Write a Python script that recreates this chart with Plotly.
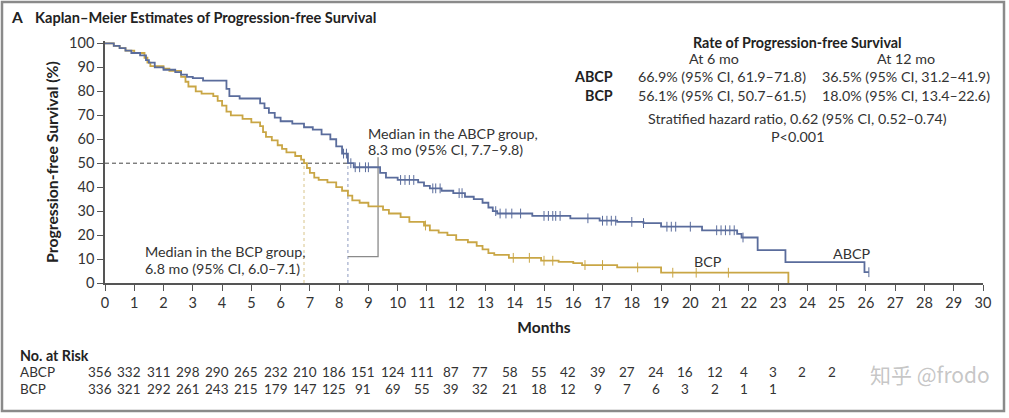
import plotly.graph_objects as go

# ---------------- data ----------------
abcp_t = [0, 0.3, 0.5, 0.7, 0.9, 1.2, 1.4, 1.5, 1.7, 2.0, 2.4, 2.6, 2.8, 3.0, 3.35, 4.15, 4.25, 4.6,
          5.3, 5.45, 5.6, 5.8, 6.0, 6.4, 6.8, 7.1, 7.4, 7.7, 7.9, 8.1, 8.3, 8.5, 9.4, 9.6, 10.0, 10.7,
          10.9, 11.1, 11.5, 11.9, 12.3, 12.6, 12.9, 13.1, 13.25, 13.4, 14.6, 15.9, 16.9, 17.5, 18.4,
          19.0, 20.4, 21.6, 21.75, 22.3, 23.25, 25.95, 26.1]
abcp_s = [100, 99, 98, 97, 96, 95, 93, 92, 90, 89, 88, 87, 86, 85.5, 84.5, 81, 78, 77,
          75, 73, 71, 69, 67.5, 66.5, 65, 64, 62, 60, 57, 54, 50, 48.3, 46, 44, 43, 42,
          40.5, 39.5, 38.5, 37.5, 36, 35, 33.5, 31.5, 30, 29, 28, 27, 26, 25.5, 25,
          23.5, 22, 20.5, 19, 13.75, 8.75, 4.5, 4.5]

bcp_t = [0, 0.3, 0.5, 0.7, 1.0, 1.35, 1.45, 1.55, 2.0, 2.2, 2.6, 2.75, 2.85, 3.1, 3.3, 3.7, 3.85, 4.0,
         4.15, 4.3, 4.7, 5.0, 5.3, 5.4, 5.5, 5.7, 5.9, 6.05, 6.2, 6.5, 6.7, 6.8, 6.9, 7.0, 7.15, 7.3,
         7.6, 7.9, 8.1, 8.3, 8.45, 8.7, 9.0, 9.5, 9.7, 10.1, 10.4, 10.9, 11.1, 11.4, 11.7, 12.0, 12.4,
         12.7, 12.9, 13.1, 13.3, 13.8, 14.9, 15.5, 16.0, 16.3, 17.5, 19.0, 23.35]
bcp_s = [100, 99, 98, 97, 96, 94, 92, 90.5, 89.5, 88.5, 86, 84, 82, 80, 79, 78, 76, 74,
         71.5, 70, 68.5, 67, 65.5, 63, 61, 59.5, 57.5, 56, 54.5, 53, 51.5, 50, 48, 46, 44, 43,
         42, 40, 38.5, 36.5, 34.5, 33.5, 32, 30.5, 29, 27.5, 25.5, 24, 22, 21, 20, 18, 17,
         15.5, 14, 12.5, 11.7, 10.5, 9.3, 8.8, 8.3, 7.5, 6.5, 4.3, 0]

abcp_censor = [8.15, 8.25, 8.4, 8.55, 8.7, 8.9, 9.0, 10.1, 10.25, 10.4, 10.55, 11.2, 11.3, 11.45,
               12.1, 12.2, 13.35, 13.5, 13.7, 13.9, 14.2, 15.0, 15.15, 15.3, 15.4, 15.55, 16.5,
               17.0, 17.15, 17.3, 17.45, 18.0, 18.4, 19.2, 19.35, 19.5, 20.0, 20.9, 21.05, 21.2,
               21.35, 21.5, 21.8, 26.1]
bcp_censor = [10.95, 13.95, 14.5, 15.0, 15.3, 16.4, 17.0, 18.2, 19.4, 20.2, 21.3]

risk_months = list(range(0, 26))
abcp_risk = [356, 332, 311, 298, 290, 265, 232, 210, 186, 151, 124, 111, 87, 77, 58, 55, 42, 39,
             27, 24, 16, 12, 4, 3, 2, 2]
bcp_risk = [336, 321, 292, 261, 243, 215, 179, 147, 125, 91, 69, 55, 39, 32, 21, 18, 12, 9, 7, 6,
            3, 2, 1, 1]

x_ticks = list(range(0, 31))
y_ticks = list(range(0, 101, 10))

median_abcp = 8.3
median_bcp = 6.8

# ---------------- style ----------------
BLUE = "#5a6c9c"
GOLD = "#c9a645"
TXT = "#333333"
DARK = "#222222"
FONT = "Lato"
FS = 14.3

# plot area in pixels
L, R, T, B = 105, 983, 41, 283
W, H = 1009, 418


def px(x):
    return (x - L) / (R - L)


def py(y):
    return (B - y) / (B - T)


def step_at(ts, ss, t):
    v = ss[0]
    for ti, si in zip(ts, ss):
        if ti <= t:
            v = si
    return v


fig = go.Figure()

# median guide lines
fig.add_trace(go.Scatter(x=[0, median_abcp], y=[50, 50], mode="lines",
                         line=dict(color="#444444", width=1, dash="4px,3px"), hoverinfo="skip"))
fig.add_trace(go.Scatter(x=[median_bcp, median_bcp], y=[0, 50], mode="lines",
                         line=dict(color="#d8c48a", width=1, dash="3px,3px"), hoverinfo="skip"))
fig.add_trace(go.Scatter(x=[median_abcp, median_abcp], y=[0, 50], mode="lines",
                         line=dict(color="#8e9cc0", width=1, dash="3px,3px"), hoverinfo="skip"))
# leader for ABCP median label
fig.add_trace(go.Scatter(x=[median_abcp, 9.33, 9.33], y=[11, 11, 52.5], mode="lines",
                         line=dict(color="#8a8a8a", width=1.3), hoverinfo="skip"))

# KM curves
fig.add_trace(go.Scatter(x=bcp_t, y=bcp_s, mode="lines", line=dict(color=GOLD, width=1.8, shape="hv"),
                         name="BCP"))
fig.add_trace(go.Scatter(x=abcp_t, y=abcp_s, mode="lines", line=dict(color=BLUE, width=1.8, shape="hv"),
                         name="ABCP"))

# censor marks
fig.add_trace(go.Scatter(x=bcp_censor, y=[step_at(bcp_t, bcp_s, t) for t in bcp_censor], mode="markers",
                         marker=dict(symbol="line-ns", size=7, line=dict(color=GOLD, width=1)),
                         hoverinfo="skip"))
fig.add_trace(go.Scatter(x=abcp_censor, y=[step_at(abcp_t, abcp_s, t) for t in abcp_censor],
                         mode="markers",
                         marker=dict(symbol="line-ns", size=7, line=dict(color=BLUE, width=1)),
                         hoverinfo="skip"))

ann = []


def text(x, y, s, size=FS, anchor="left", bold=False, color=TXT, family=FONT, yanchor="middle"):
    if bold:
        s = "<b>" + s + "</b>"
    ann.append(dict(x=px(x), y=py(y), xref="paper", yref="paper", text=s, showarrow=False,
                    xanchor=anchor, yanchor=yanchor, font=dict(size=size, color=color, family=family)))


# title
text(9, 17, "A", size=15.5, bold=True, color=DARK)
text(33, 17, "Kaplan–Meier Estimates of Progression-free Survival", size=14.6, bold=True, color=DARK)

# rate table
cx = 797
text(cx, 43, "Rate of Progression-free Survival", size=14.3, anchor="center", bold=True, color=DARK)
text(714, 59, "At 6 mo", anchor="center")
text(906, 59, "At 12 mo", anchor="center")
text(615, 77, "ABCP", anchor="right", bold=True, color=DARK)
text(615, 95, "BCP", anchor="right", bold=True, color=DARK)
text(636, 77, "66.9% (95% CI, 61.9–71.8)")
text(636, 95, "56.1% (95% CI, 50.7–61.5)")
text(820, 77, "36.5% (95% CI, 31.2–41.9)")
text(820, 95, "18.0% (95% CI, 13.4–22.6)")
text(cx, 118, "Stratified hazard ratio, 0.62 (95% CI, 0.52–0.74)", anchor="center")
text(cx, 136, "P<0.001", anchor="center")

# median labels
text(366, 133, "Median in the ABCP group,")
text(366, 149, "8.3 mo (95% CI, 7.7–9.8)")
text(308, 251, "Median in the BCP group,", anchor="right")
text(302, 268, "6.8 mo (95% CI, 6.0–7.1)", anchor="right")

# curve labels
ann.append(dict(x=25.5, y=12.5, xref="x", yref="y", text="ABCP", showarrow=False,
                font=dict(size=FS, color=TXT, family=FONT)))
ann.append(dict(x=20.6, y=8.8, xref="x", yref="y", text="BCP", showarrow=False,
                font=dict(size=FS, color=TXT, family=FONT)))

# risk table
text(18, 355, "No. at Risk", size=14.3, bold=True, color=DARK)
text(18, 372, "ABCP", size=13.5)
text(18, 389, "BCP", size=13.5)
for m, v in zip(risk_months, abcp_risk):
    ann.append(dict(x=m, y=py(372), xref="x", yref="paper", text=str(v), showarrow=False,
                    xanchor="center", yanchor="middle", xshift=-5,
                    font=dict(size=13.5, color=TXT, family=FONT)))
for m, v in zip(risk_months, bcp_risk):
    ann.append(dict(x=m, y=py(389), xref="x", yref="paper", text=str(v), showarrow=False,
                    xanchor="center", yanchor="middle", xshift=-5,
                    font=dict(size=13.5, color=TXT, family=FONT)))

# watermark
text(930, 374, "知乎 @frodo", size=21, anchor="center", color="rgba(150,150,150,0.55)",
     family="Noto Sans CJK SC")

shapes = [
    dict(type="rect", xref="paper", yref="paper", x0=px(2), x1=px(1004), y0=py(2), y1=py(411),
         line=dict(color="#8a8a8a", width=2.5), layer="below"),
]

fig.update_layout(
    width=W, height=H,
    margin=dict(l=L, r=W - R, t=T, b=H - B, pad=0),
    paper_bgcolor="white", plot_bgcolor="white",
    showlegend=False,
    annotations=ann,
    shapes=shapes,
    font=dict(family=FONT, color=TXT, size=FS),
    xaxis=dict(range=[0, 30], tickmode="array", tickvals=x_ticks, ticktext=[str(v) for v in x_ticks],
               ticks="outside", ticklen=6, tickwidth=1.2, tickcolor="#555555",
               showline=True, linecolor="#555555", linewidth=1.5, showgrid=False, zeroline=False,
               tickfont=dict(size=14.5, color=TXT, family=FONT),
               title=dict(text="<b>Months</b>", font=dict(size=15.5, color=DARK, family=FONT),
                          standoff=12)),
    yaxis=dict(range=[0, 101], tickmode="array", tickvals=y_ticks, ticktext=[str(v) for v in y_ticks],
               ticks="outside", ticklen=6, tickwidth=1.2, tickcolor="#555555",
               showline=True, linecolor="#555555", linewidth=1.5, showgrid=False, zeroline=False,
               tickfont=dict(size=14.5, color=TXT, family=FONT),
               title=dict(text="<b>Progression-free Survival (%)</b>",
                          font=dict(size=15.8, color=DARK, family=FONT), standoff=7)),
)

fig.write_html("out.html", config={"displayModeBar": False},
               post_script="document.body.style.margin='0';document.body.style.overflow='hidden';")
